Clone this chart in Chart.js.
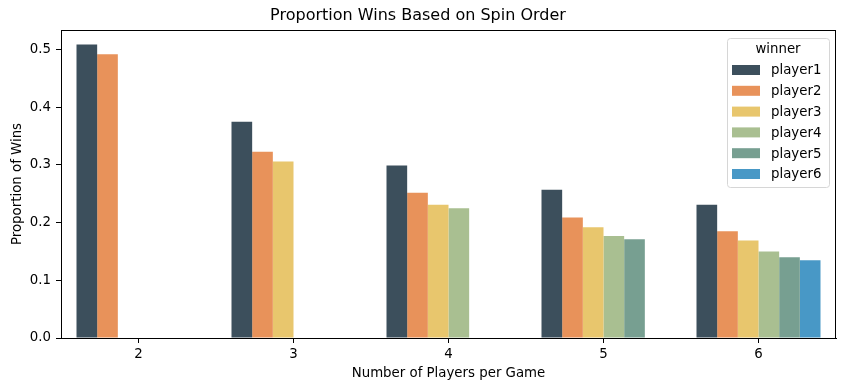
<!DOCTYPE html>
<html>
<head>
<meta charset="utf-8">
<script src="https://cdn.jsdelivr.net/npm/chart.js@4"></script>
<style>
  html, body { margin: 0; padding: 0; background: #fff; }
  #wrap { position: relative; width: 846px; height: 391px; }
</style>
</head>
<body>
<div id="wrap"><canvas id="chart"></canvas></div>
<script>
const categories = ["2", "3", "4", "5", "6"];
const seriesNames = ["player1", "player2", "player3", "player4", "player5", "player6"];
const player1 = [0.509, 0.375, 0.299, 0.257, 0.231];
const player2 = [0.492, 0.323, 0.252, 0.209, 0.185];
const player3 = [null, 0.306, 0.231, 0.192, 0.169];
const player4 = [null, null, 0.225, 0.177, 0.150];
const player5 = [null, null, null, 0.171, 0.140];
const player6 = [null, null, null, null, 0.135];
const yTicks = [0, 0.1, 0.2, 0.3, 0.4, 0.5];

const colors = ["#3c4f5c", "#e8925a", "#e8c66d", "#a9bf91", "#779f91", "#4898c6"];
const FONT = "'DejaVu Sans', sans-serif";

// frame around the plot area, like matplotlib spines
const frame = {
  id: "frame",
  afterDatasetsDraw(chart) {
    const { ctx, chartArea: a } = chart;
    ctx.save();
    ctx.strokeStyle = "#000";
    ctx.lineWidth = 1;
    ctx.strokeRect(Math.round(a.left) + 0.5, Math.round(a.top) + 0.5,
      Math.round(a.right - a.left) - 1, Math.round(a.bottom - a.top));
    ctx.restore();
  }
};

// legend drawn inside the axes, upper right
const insideLegend = {
  id: "insideLegend",
  afterDraw(chart) {
    const { ctx, chartArea: a } = chart;
    const sets = chart.data.datasets;
    const w = 102, rowH = 20.8;
    const h = 32 + rowH * (sets.length - 1) + 13;
    const x = a.right - 7 - w, y = a.top + 8;
    ctx.save();
    ctx.fillStyle = "rgba(255,255,255,0.8)";
    ctx.strokeStyle = "#d6d6d6";
    ctx.lineWidth = 1;
    ctx.beginPath();
    ctx.roundRect(x + 0.5, y + 0.5, w, h, 3);
    ctx.fill();
    ctx.stroke();
    ctx.fillStyle = "#000";
    ctx.font = "13.33px " + FONT;
    ctx.textBaseline = "middle";
    ctx.textAlign = "center";
    ctx.fillText("winner", x + w / 2, y + 12);
    ctx.textAlign = "left";
    sets.forEach((ds, i) => {
      const cy = y + 32 + i * rowH;
      ctx.fillStyle = ds.backgroundColor;
      ctx.fillRect(x + 5, cy - 5, 28, 10);
      ctx.fillStyle = "#000";
      ctx.fillText(ds.label, x + 44, cy + 1);
    });
    ctx.restore();
  }
};

const values = [player1, player2, player3, player4, player5, player6];

new Chart(document.getElementById("chart"), {
  type: "bar",
  data: {
    labels: categories,
    datasets: seriesNames.map((name, i) => ({
      label: name,
      data: values[i],
      backgroundColor: colors[i],
      borderWidth: 0,
      categoryPercentage: 0.8,
      barPercentage: 1.0
    }))
  },
  options: {
    responsive: true,
    maintainAspectRatio: false,
    animation: false,
    layout: { padding: { left: 0, right: 10, top: 0, bottom: 0 } },
    plugins: {
      legend: { display: false },
      tooltip: { enabled: false },
      title: {
        display: true,
        text: "Proportion Wins Based on Spin Order",
        color: "#000",
        font: { family: FONT, size: 16, weight: "normal" },
        padding: { top: 6, bottom: 4.8 }
      }
    },
    scales: {
      x: {
        offset: true,
        grid: { display: true, offset: false, drawOnChartArea: false, drawTicks: true, tickLength: 5, color: "#000" },
        border: { display: true, color: "#000" },
        ticks: { color: "#000", font: { family: FONT, size: 13.33 }, padding: 4, maxRotation: 0 },
        title: {
          display: true,
          text: "Number of Players per Game",
          color: "#000",
          font: { family: FONT, size: 13.33 },
          padding: { top: 0, bottom: 9 }
        },
        afterFit(scale) { scale.height = 53; }
      },
      y: {
        min: 0,
        max: 0.534,
        afterBuildTicks(scale) { scale.ticks = yTicks.map(v => ({ value: v })); },
        grid: { display: true, drawOnChartArea: false, drawTicks: true, tickLength: 5, color: "#000" },
        border: { display: true, color: "#000" },
        ticks: {
          color: "#000",
          font: { family: FONT, size: 13.33 },
          padding: 5,
          callback: v => Number(v).toFixed(1)
        },
        title: {
          display: true,
          text: "Proportion of Wins",
          color: "#000",
          font: { family: FONT, size: 13.33 },
          padding: { top: 10, bottom: 0 }
        },
        afterFit(scale) { scale.width = 61; }
      }
    }
  },
  plugins: [frame, insideLegend]
});
</script>
</body>
</html>
